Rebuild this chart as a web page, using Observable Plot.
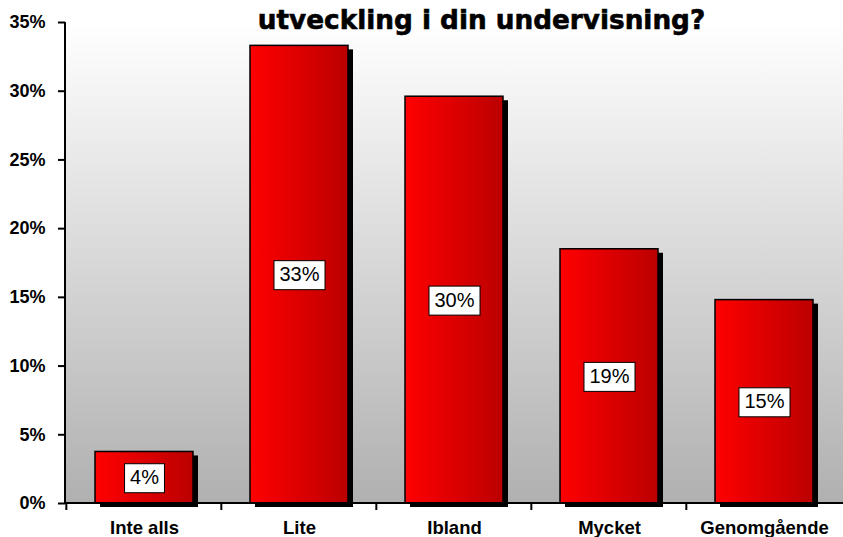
<!DOCTYPE html>
<html><head><meta charset="utf-8">
<script src="https://cdn.jsdelivr.net/npm/d3@7"></script>
<script src="https://cdn.jsdelivr.net/npm/@observablehq/plot@0.6"></script>
<style>body{margin:0;background:#fff} svg{display:block}</style>
</head><body><div id="chart"></div>
<script>
const categories = ["Inte alls", "Lite", "Ibland", "Mycket", "Genomgående"];
const values = [3.75, 33.3, 29.6, 18.5, 14.8];
const valueLabels = ["4%", "33%", "30%", "19%", "15%"];
const yTicks = [0, 5, 10, 15, 20, 25, 30, 35];
const title = "utveckling i din undervisning?";

const data = categories.map((c, i) => ({category: c, value: values[i], label: valueLabels[i]}));

const defs = () => {
  const d = d3.create("svg:defs");
  const bg = d.append("linearGradient").attr("id", "bgGrad")
    .attr("x1", 0).attr("y1", 0).attr("x2", 0).attr("y2", 1);
  bg.append("stop").attr("offset", "0%").attr("stop-color", "#ffffff");
  bg.append("stop").attr("offset", "100%").attr("stop-color", "#b0b0b0");
  const bar = d.append("linearGradient").attr("id", "barGrad")
    .attr("x1", 0).attr("y1", 0).attr("x2", 1).attr("y2", 0);
  bar.append("stop").attr("offset", "0%").attr("stop-color", "#ff0000");
  bar.append("stop").attr("offset", "100%").attr("stop-color", "#bb0000");
  return d.node();
};

// axis lines and tick marks between categories
const axisLines = (index, scales, values, dims) => {
  const x = scales.x;
  const g = d3.create("svg:g").attr("stroke", "black").attr("stroke-width", 2);
  const y0 = dims.height - dims.marginBottom;
  const x0 = dims.marginLeft;
  g.append("line").attr("x1", x0).attr("x2", dims.width - dims.marginRight).attr("y1", y0).attr("y2", y0);
  g.append("line").attr("x1", x0).attr("x2", x0).attr("y1", dims.marginTop).attr("y2", y0);
  const pos = categories.map(c => x(c) - x.step() * x.paddingOuter());
  for (const p of pos) {
    g.append("line").attr("x1", p).attr("x2", p).attr("y1", y0).attr("y2", y0 + 7);
  }
  return g.node();
};

const measureCtx = document.createElement("canvas").getContext("2d");

const chart = Plot.plot({
  width: 843,
  height: 537,
  marginLeft: 65,
  marginRight: 0,
  marginTop: 22,
  marginBottom: 34,
  style: {background: "transparent", overflow: "visible"},
  x: {domain: categories, paddingInner: 0.37, paddingOuter: 0.185, align: 0.5, label: null},
  y: {domain: [0, 35], ticks: yTicks, label: null},
  marks: [
    defs,
    Plot.frame({fill: "url(#bgGrad)"}),
    Plot.barY(data, {x: "category", y: "value", fill: "black", dx: 5, dy: 4}),
    Plot.barY(data, {x: "category", y: "value", fill: "url(#barGrad)", stroke: "black", strokeWidth: 1.5}),
    Plot.text(data, {
      x: "category", y: d => d.value / 2, text: "label",
      fontSize: 20, fontFamily: "Liberation Sans, Arial, sans-serif", fill: "black",
      render(index, scales, vals, dims, context, next) {
        const g = next(index, scales, vals, dims, context);
        measureCtx.font = "20px 'Liberation Sans', Arial, sans-serif";
        g.querySelectorAll("text").forEach(t => {
          const w = measureCtx.measureText(t.textContent).width + 11;
          const h = 29;
          const r = document.createElementNS("http://www.w3.org/2000/svg", "rect");
          r.setAttribute("x", -w / 2);
          r.setAttribute("y", -h / 2 + 0.5);
          r.setAttribute("width", w);
          r.setAttribute("height", h);
          r.setAttribute("fill", "white");
          r.setAttribute("stroke", "black");
          r.setAttribute("stroke-width", 1);
          if (t.getAttribute("transform")) r.setAttribute("transform", t.getAttribute("transform"));
          g.insertBefore(r, t);
        });
        return g;
      }
    }),
    Plot.axisY({
      ticks: yTicks, tickFormat: d => d + "%", tickSize: 7, tickPadding: 13,
      fontSize: 18, fontWeight: "bold", fontFamily: "Liberation Sans, Arial, sans-serif",
      strokeWidth: 2, label: null
    }),
    Plot.axisX({
      tickSize: 0, tickPadding: 17, fontSize: 18.5, fontWeight: "bold",
      fontFamily: "Liberation Sans, Arial, sans-serif", label: null
    }),
    axisLines,
    Plot.text([title], {
      frameAnchor: "top", dx: 27, dy: 6.5, lineAnchor: "bottom",
      fontSize: 26.3, fontWeight: "bold", fontFamily: "DejaVu Sans, sans-serif",
      fill: "black", stroke: "black", strokeWidth: 0.6
    })
  ]
});

document.getElementById("chart").appendChild(chart);
</script>
</body></html>
